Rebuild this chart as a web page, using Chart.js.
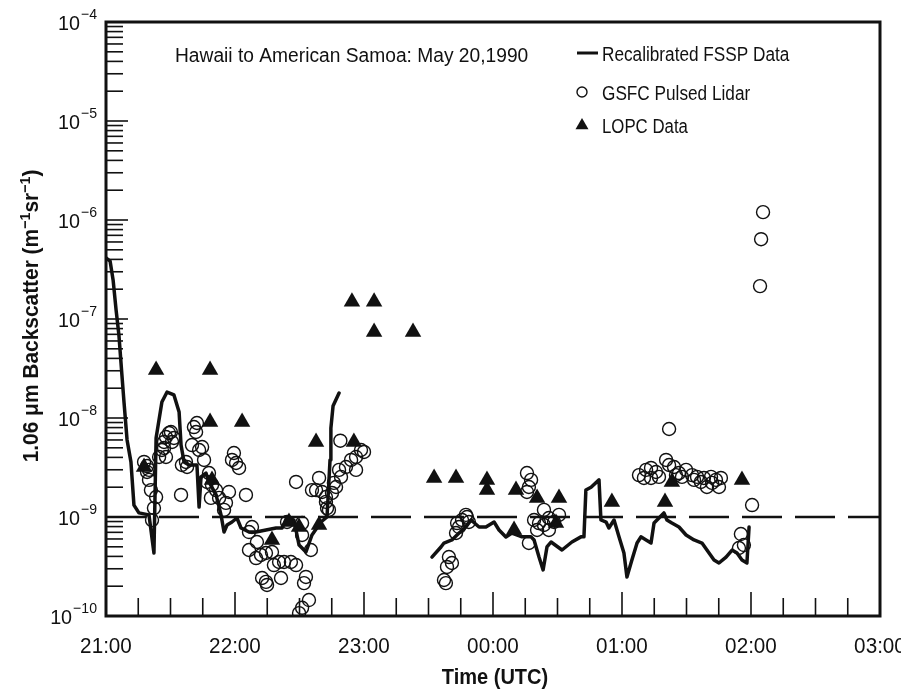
<!DOCTYPE html>
<html>
<head>
<meta charset="utf-8">
<script src="https://cdn.jsdelivr.net/npm/chart.js@4.4.1/dist/chart.umd.min.js"></script>
<style>
html, body { margin: 0; padding: 0; background: #fff; }
#wrap { width: 901px; height: 689px; }
canvas { display: block; }
</style>
</head>
<body>
<div id="wrap"><canvas id="chart" width="901" height="689"></canvas></div>
<script>
"use strict";

// time axis is in minutes after 21:00 UTC
var timeTicks = [0, 60, 120, 180, 240, 300, 360];
var timeLabels = ["21:00", "22:00", "23:00", "00:00", "01:00", "02:00", "03:00"];
var decadeExponents = [-10, -9, -8, -7, -6, -5, -4];
var referenceLevel = 1e-9;

// recalibrated FSSP, first leg (21:00 - 22:50)
var fsspTimeA = [0, 1.9, 3.3, 4.7, 6.0, 7.4, 8.4, 9.8, 11.6, 13.0,
	15.3, 20.0, 22.3, 23.3, 26.0, 28.4, 31.6, 34.0, 34.9, 36.3,
	38.6, 42.3, 43.3, 44.2, 46.5, 47.9, 51.2, 53.5, 54.9, 56.3,
	58.6, 60.9, 62.8, 66.5, 69.8, 74.4, 79.1, 81.9, 84.2, 87.4,
	89.8, 93.0, 95.8, 100.0, 102.8, 104.2, 104.6, 105.6, 108.4];
var fsspValueA = [4.13e-7, 3.85e-7, 2.48e-7, 1.23e-7, 6.9e-8, 2.72e-8, 1.42e-8, 6.0e-9, 3.6e-9, 1.32e-9,
	1.1e-9, 1.05e-9, 4.33e-10, 6.28e-9, 1.45e-8, 1.83e-8, 1.71e-8, 1.15e-8, 5.33e-9, 3.6e-9,
	3.35e-9, 3.35e-9, 1.26e-9, 2.54e-9, 2.78e-9, 2.26e-9, 1.67e-9, 1.05e-9, 7.05e-10, 8.3e-10,
	8.9e-10, 9.77e-10, 7.74e-10, 7.05e-10, 7.05e-10, 7.39e-10, 7.74e-10, 7.74e-10, 1.0e-9, 9.33e-10,
	5.21e-10, 4.43e-10, 6.58e-10, 8.9e-10, 1.0e-9, 3.77e-9, 7.9e-9, 1.32e-8, 1.79e-8];

// recalibrated FSSP, second leg (23:30 - 02:00)
var fsspTimeB = [151.6, 155.8, 157.2, 160.9, 164.2, 167.4, 169.8, 173.5, 176.7, 180.5,
	182.8, 186.0, 188.8, 193.5, 197.7, 199.1, 201.4, 203.3, 205.1, 207.0,
	212.1, 216.7, 220.9, 222.3, 223.2, 225.6, 229.3, 230.2, 232.6, 233.9,
	236.3, 238.6, 240.9, 242.3, 244.6, 247.0, 248.8, 251.2, 253.5, 254.9,
	257.2, 259.5, 260.9, 263.2, 266.5, 269.8, 273.5, 277.2, 279.5, 282.8,
	285.1, 288.4, 291.2, 293.5, 295.8, 298.1, 299.1];
var fsspValueB = [3.94e-10, 4.98e-10, 5.46e-10, 5.86e-10, 6.89e-10, 7.92e-10, 9.33e-10, 7.92e-10, 7.92e-10, 8.9e-10,
	7.39e-10, 6.28e-10, 6.89e-10, 6.3e-10, 6.3e-10, 5.86e-10, 3.94e-10, 2.92e-10, 4.98e-10, 5.59e-10,
	4.64e-10, 5.59e-10, 6.3e-10, 6.3e-10, 1.87e-9, 2.0e-9, 2.37e-9, 9.33e-10, 8.9e-10, 7.74e-10,
	9.33e-10, 6.3e-10, 4.33e-10, 2.48e-10, 3.68e-10, 5.46e-10, 6.3e-10, 5.86e-10, 5.46e-10, 8.69e-10,
	9.77e-10, 1.1e-9, 9.33e-10, 8.69e-10, 7.92e-10, 6.58e-10, 5.86e-10, 5.46e-10, 4.64e-10, 3.68e-10,
	3.43e-10, 3.94e-10, 4.64e-10, 4.33e-10, 3.68e-10, 3.43e-10, 7.92e-10];

// GSFC pulsed lidar
var lidarTime = [
	17.7, 19.1, 19.1, 20.0, 20.9, 23.3, 22.3, 21.4, 20.0, 24.7, 26.0, 27.0, 27.9, 29.3, 30.2, 27.0, 27.9, 30.7, 31.6, 34.9, 35.3, 37.2, 37.7,
	40.9, 41.9, 42.3, 40.0, 43.3, 44.7, 45.6, 47.9, 47.0, 49.3, 51.2, 48.8, 52.6, 55.8, 54.9, 57.2, 65.1, 59.5, 58.6, 61.9, 60.5,
	66.5, 67.9, 70.2, 66.5, 69.8, 72.1, 74.4, 77.2, 78.1, 80.5, 81.4, 72.6, 74.4, 74.9, 82.8, 86.0, 88.4, 91.2, 95.3, 93.0, 92.1, 94.4, 91.2, 89.8, 84.2, 91.2,
	88.4, 95.8, 97.7, 99.1, 100.5, 102.3, 102.8, 103.7, 105.1, 107.0, 109.0, 108.4, 109.3, 111.6, 114.0, 116.3, 116.3, 118.6, 120.0, 106.0, 102.3,
	157.2, 158.1, 158.6, 159.5, 160.9, 162.8, 163.3, 165.6, 167.4, 167.9, 168.8, 164.2,
	195.8, 197.7, 196.7, 195.8, 196.7, 201.4, 199.1, 203.7, 206.0, 208.4, 203.7, 200.5, 210.7, 206.0,
	261.9, 247.9, 250.2, 251.2, 253.5, 255.8, 257.2, 260.5, 261.9, 264.2, 265.1, 266.5, 267.9, 269.8, 272.6, 273.5, 274.9, 276.7, 278.1, 279.5, 281.4, 281.9, 283.7, 285.1, 286.0, 253.5,
	300.5, 295.3, 294.4, 296.7, 305.6, 304.7, 304.2];
var lidarValue = [
	3.6e-9, 3.27e-9, 2.85e-9, 2.37e-9, 1.87e-9, 1.59e-9, 1.23e-9, 9.3e-10, 2.99e-9, 4.04e-9, 4.75e-9, 5.73e-9, 6.43e-9, 7.06e-9, 7.22e-9, 4.98e-9, 4.04e-9, 5.73e-9, 6.28e-9, 1.67e-9, 3.35e-9, 3.6e-9, 3.2e-9,
	8.1e-9, 7.22e-9, 8.9e-9, 5.33e-9, 4.75e-9, 5.09e-9, 3.77e-9, 2.78e-9, 2.26e-9, 2.11e-9, 1.87e-9, 1.56e-9, 1.56e-9, 1.39e-9, 1.18e-9, 1.79e-9, 1.67e-9, 4.43e-9, 3.77e-9, 3.13e-9, 3.51e-9,
	7.05e-10, 7.92e-10, 5.59e-10, 4.64e-10, 3.85e-10, 4.13e-10, 4.33e-10, 4.43e-10, 3.27e-10, 3.51e-10, 2.42e-10, 2.42e-10, 2.21e-10, 2.06e-10, 3.51e-10, 3.51e-10, 3.27e-10, 6.58e-10, 4.64e-10, 2.48e-10, 2.15e-10, 1.45e-10, 1.21e-10, 1.07e-10, 8.9e-10, 8.69e-10,
	2.26e-9, 1.87e-9, 1.87e-9, 2.48e-9, 1.79e-9, 1.59e-9, 1.23e-9, 1.18e-9, 1.75e-9, 2.01e-9, 5.9e-9, 2.99e-9, 2.54e-9, 3.2e-9, 3.77e-9, 4.04e-9, 2.99e-9, 4.75e-9, 4.54e-9, 2.21e-9, 1.42e-9,
	2.31e-10, 2.15e-10, 3.13e-10, 3.94e-10, 3.43e-10, 6.89e-10, 8.69e-10, 9.33e-10, 1.05e-9, 1.0e-9, 8.9e-10, 7.92e-10,
	2.78e-9, 2.37e-9, 2.01e-9, 1.79e-9, 5.46e-10, 8.69e-10, 9.33e-10, 8.3e-10, 9.77e-10, 8.9e-10, 1.18e-9, 7.39e-10, 1.05e-9, 7.39e-10,
	7.74e-9, 2.65e-9, 2.48e-9, 2.99e-9, 3.13e-9, 2.85e-9, 2.54e-9, 3.77e-9, 3.35e-9, 3.2e-9, 2.65e-9, 2.78e-9, 2.54e-9, 2.99e-9, 2.65e-9, 2.37e-9, 2.54e-9, 2.26e-9, 2.48e-9, 2.01e-9, 2.54e-9, 2.21e-9, 2.37e-9, 2.01e-9, 2.48e-9, 2.48e-9,
	1.32e-9, 6.73e-10, 4.86e-10, 5.21e-10, 1.2e-6, 6.4e-7, 2.15e-7];

// LOPC
var lopcTime = [17.7, 23.3, 48.4, 48.4, 63.3, 49.3, 77.2, 85.1, 89.8, 99.1,
	97.7, 115.3, 114.4, 124.7, 124.7, 142.8, 152.6, 162.8, 177.2, 177.2,
	190.7, 200.5, 210.7, 189.8, 209.3, 235.3, 260.0, 295.8, 263.2];
var lopcValue = [3.2e-9, 3.05e-8, 3.05e-8, 9.12e-9, 9.12e-9, 2.37e-9, 5.86e-10, 8.9e-10, 7.92e-10, 8.3e-10,
	5.73e-9, 5.73e-9, 1.49e-7, 1.49e-7, 7.39e-8, 7.39e-8, 2.48e-9, 2.48e-9, 2.37e-9, 1.87e-9,
	1.87e-9, 1.56e-9, 1.56e-9, 7.39e-10, 8.69e-10, 1.42e-9, 1.42e-9, 2.37e-9, 2.26e-9];

var INK = "#111";
var FONT = '"Liberation Sans", Arial, Helvetica, sans-serif';

function toPoints(xs, ys) {
	var pts = [];
	for (var i = 0; i < xs.length; i++) {
		pts.push({x: xs[i], y: ys[i]});
	}
	return pts;
}

// draws horizontally condensed text, returns its width
function drawText(ctx, text, x, y, size, bold, align, sx) {
	ctx.save();
	ctx.font = (bold ? "bold " : "") + size + "px " + FONT;
	ctx.textBaseline = "alphabetic";
	ctx.textAlign = "left";
	var w = ctx.measureText(text).width * sx;
	var x0 = x;
	if (align === "center") x0 = x - w / 2;
	if (align === "right") x0 = x - w;
	ctx.translate(x0, y);
	ctx.scale(sx, 1);
	ctx.fillText(text, 0, 0);
	ctx.restore();
	return w;
}

function textWidth(ctx, text, size, bold, sx) {
	ctx.save();
	ctx.font = (bold ? "bold " : "") + size + "px " + FONT;
	var w = ctx.measureText(text).width * sx;
	ctx.restore();
	return w;
}

// frame, inward ticks, labels, title and legend
var frameAndLabels = {
	id: "frameAndLabels",
	afterDatasetsDraw: function(chart) {
		var ctx = chart.ctx;
		var area = chart.chartArea;
		var xs = chart.scales.x;
		var ys = chart.scales.y;
		ctx.save();
		ctx.strokeStyle = INK;
		ctx.fillStyle = INK;

		// time ticks every 15 minutes, taller on the hour
		ctx.lineWidth = 1.6;
		for (var m = 15; m < 360; m += 15) {
			var px = xs.getPixelForValue(m);
			var len = (m % 60 === 0) ? 24 : 18;
			ctx.beginPath();
			ctx.moveTo(px, area.bottom);
			ctx.lineTo(px, area.bottom - len);
			ctx.stroke();
		}

		// log ticks
		for (var i = 0; i < decadeExponents.length; i++) {
			var base = Math.pow(10, decadeExponents[i]);
			if (i > 0 && i < decadeExponents.length - 1) {
				var py = ys.getPixelForValue(base);
				ctx.beginPath();
				ctx.moveTo(area.left, py);
				ctx.lineTo(area.left + 22, py);
				ctx.stroke();
			}
			if (i < decadeExponents.length - 1) {
				for (var k = 2; k <= 9; k++) {
					var pk = ys.getPixelForValue(k * base);
					ctx.beginPath();
					ctx.moveTo(area.left, pk);
					ctx.lineTo(area.left + 17, pk);
					ctx.stroke();
				}
			}
		}

		// frame
		ctx.lineWidth = 3;
		ctx.strokeRect(area.left, area.top, area.right - area.left, area.bottom - area.top);

		// x tick labels
		for (var t = 0; t < timeTicks.length; t++) {
			drawText(ctx, timeLabels[t], xs.getPixelForValue(timeTicks[t]), 653, 22, false, "center", 0.94);
		}

		// y tick labels: 10 with raised exponent
		for (var j = 0; j < decadeExponents.length; j++) {
			var yv = ys.getPixelForValue(Math.pow(10, decadeExponents[j]));
			var sup = "\u2212" + Math.abs(decadeExponents[j]);
			var ws = drawText(ctx, sup, 97, yv - 3, 15, false, "right", 0.94);
			drawText(ctx, "10", 97 - ws - 1, yv + 7.5, 21, false, "right", 0.94);
		}

		// x axis title
		drawText(ctx, "Time (UTC)", (area.left + area.right) / 2 + 2, 684, 22, true, "center", 0.91);

		// y axis title, rotated, with superscripts
		var parts = [
			{t: "1.06 \u03bcm Backscatter (m", sup: false},
			{t: "\u22121", sup: true},
			{t: "sr", sup: false},
			{t: "\u22121", sup: true},
			{t: ")", sup: false}
		];
		var total = 0;
		parts.forEach(function(p) {
			p.w = p.sup ? textWidth(ctx, p.t, 15, true, 0.95) : textWidth(ctx, p.t, 22, true, 0.95);
			total += p.w;
		});
		ctx.save();
		ctx.translate(38, 316);
		ctx.rotate(-Math.PI / 2);
		var cx = -total / 2;
		parts.forEach(function(p) {
			if (p.sup) {
				drawText(ctx, p.t, cx, -8, 15, true, "left", 0.95);
			} else {
				drawText(ctx, p.t, cx, 0, 22, true, "left", 0.95);
			}
			cx += p.w;
		});
		ctx.restore();

		// title
		drawText(ctx, "Hawaii to American Samoa: May 20,1990", 175, 62, 20, false, "left", 0.96);

		// legend
		ctx.lineWidth = 3;
		ctx.beginPath();
		ctx.moveTo(577, 53);
		ctx.lineTo(598, 53);
		ctx.stroke();
		drawText(ctx, "Recalibrated FSSP Data", 602, 60.5, 20, false, "left", 0.86);

		ctx.lineWidth = 1.4;
		ctx.beginPath();
		ctx.arc(582, 92, 5, 0, Math.PI * 2);
		ctx.stroke();
		drawText(ctx, "GSFC Pulsed Lidar", 602, 99.5, 20, false, "left", 0.86);

		ctx.beginPath();
		var r = 7.5;
		ctx.moveTo(582, 125.5 - r);
		ctx.lineTo(582 + r * 0.866, 125.5 + r / 2);
		ctx.lineTo(582 - r * 0.866, 125.5 + r / 2);
		ctx.closePath();
		ctx.fill();
		drawText(ctx, "LOPC Data", 602, 132.5, 20, false, "left", 0.84);

		ctx.restore();
	}
};

var lineStyle = {
	showLine: true,
	borderColor: INK,
	borderWidth: 3.5,
	pointRadius: 0,
	fill: false,
	tension: 0,
	borderJoinStyle: "round",
	borderCapStyle: "round"
};

var ctx = document.getElementById("chart").getContext("2d");
var backscatterChart = new Chart(ctx, {
	type: "scatter",
	data: {
		datasets: [
			{
				label: "GSFC Pulsed Lidar",
				data: toPoints(lidarTime, lidarValue),
				pointStyle: "circle",
				pointRadius: 6.5,
				pointBorderWidth: 1.4,
				pointBorderColor: INK,
				pointBackgroundColor: "rgba(0,0,0,0)"
			},
			{
				label: "LOPC Data",
				data: toPoints(lopcTime, lopcValue),
				pointStyle: "triangle",
				pointRadius: 9.5,
				pointBorderWidth: 0,
				pointBorderColor: INK,
				pointBackgroundColor: INK
			},
			Object.assign({label: "Recalibrated FSSP Data", data: toPoints(fsspTimeA, fsspValueA)}, lineStyle),
			Object.assign({label: "Recalibrated FSSP Data (2)", data: toPoints(fsspTimeB, fsspValueB)}, lineStyle),
			{
				label: "1e-9",
				data: toPoints([timeTicks[0], timeTicks[timeTicks.length - 1]], [referenceLevel, referenceLevel]),
				showLine: true,
				borderColor: INK,
				borderWidth: 2.5,
				borderDash: [40, 13],
				pointRadius: 0
			}
		]
	},
	options: {
		responsive: false,
		animation: false,
		events: [],
		layout: {
			padding: {left: 106, top: 22, right: 21, bottom: 73}
		},
		scales: {
			x: {
				type: "linear",
				display: false,
				min: timeTicks[0],
				max: timeTicks[timeTicks.length - 1]
			},
			y: {
				type: "logarithmic",
				display: false,
				min: Math.pow(10, decadeExponents[0]),
				max: Math.pow(10, decadeExponents[decadeExponents.length - 1])
			}
		},
		plugins: {
			legend: {display: false},
			tooltip: {enabled: false}
		}
	},
	plugins: [frameAndLabels]
});
</script>
</body>
</html>
